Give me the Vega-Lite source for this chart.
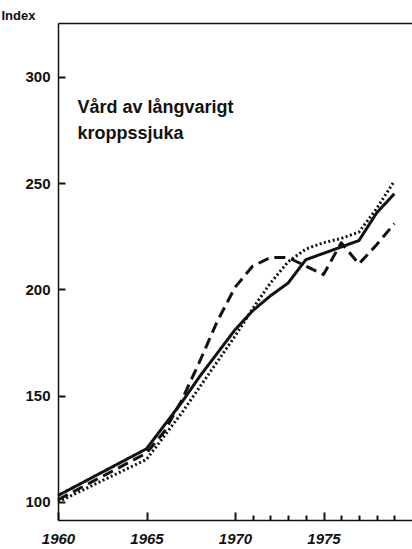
{
  "$schema": "https://vega.github.io/schema/vega-lite/v6.json",
  "width": 354,
  "height": 497,
  "autosize": "none",
  "padding": {"left": 58, "top": 23, "right": 0, "bottom": 29},
  "background": "white",
  "config": {
    "view": {"stroke": null},
    "axis": {"grid": false, "ticks": true, "domainColor": "#111", "tickColor": "#111", "labelColor": "#111", "titleColor": "#111", "labelFont": "Liberation Sans", "titleFont": "Liberation Sans", "domainWidth": 1.5, "tickWidth": 2}
  },
  "datasets": {
    "series": [
      {"year": 1960, "value": 103, "serie": "A"},
      {"year": 1965, "value": 125, "serie": "A"},
      {"year": 1966, "value": 136, "serie": "A"},
      {"year": 1967, "value": 147, "serie": "A"},
      {"year": 1968, "value": 159, "serie": "A"},
      {"year": 1969, "value": 170, "serie": "A"},
      {"year": 1970, "value": 181, "serie": "A"},
      {"year": 1971, "value": 190, "serie": "A"},
      {"year": 1972, "value": 197, "serie": "A"},
      {"year": 1973, "value": 203, "serie": "A"},
      {"year": 1974, "value": 214, "serie": "A"},
      {"year": 1975, "value": 217, "serie": "A"},
      {"year": 1976, "value": 220, "serie": "A"},
      {"year": 1977, "value": 223, "serie": "A"},
      {"year": 1978, "value": 236, "serie": "A"},
      {"year": 1979, "value": 245, "serie": "A"},
      {"year": 1960, "value": 101, "serie": "B"},
      {"year": 1965, "value": 123, "serie": "B"},
      {"year": 1966, "value": 133, "serie": "B"},
      {"year": 1967, "value": 148, "serie": "B"},
      {"year": 1968, "value": 166, "serie": "B"},
      {"year": 1969, "value": 185, "serie": "B"},
      {"year": 1970, "value": 201, "serie": "B"},
      {"year": 1971, "value": 211, "serie": "B"},
      {"year": 1972, "value": 215, "serie": "B"},
      {"year": 1973, "value": 215, "serie": "B"},
      {"year": 1974, "value": 211, "serie": "B"},
      {"year": 1975, "value": 207, "serie": "B"},
      {"year": 1976, "value": 222, "serie": "B"},
      {"year": 1977, "value": 212, "serie": "B"},
      {"year": 1978, "value": 221, "serie": "B"},
      {"year": 1979, "value": 231, "serie": "B"},
      {"year": 1960, "value": 100, "serie": "C"},
      {"year": 1965, "value": 120, "serie": "C"},
      {"year": 1966, "value": 131, "serie": "C"},
      {"year": 1967, "value": 142, "serie": "C"},
      {"year": 1968, "value": 154, "serie": "C"},
      {"year": 1969, "value": 166, "serie": "C"},
      {"year": 1970, "value": 178, "serie": "C"},
      {"year": 1971, "value": 191, "serie": "C"},
      {"year": 1972, "value": 203, "serie": "C"},
      {"year": 1973, "value": 213, "serie": "C"},
      {"year": 1974, "value": 219, "serie": "C"},
      {"year": 1975, "value": 222, "serie": "C"},
      {"year": 1976, "value": 224, "serie": "C"},
      {"year": 1977, "value": 227, "serie": "C"},
      {"year": 1978, "value": 238, "serie": "C"},
      {"year": 1979, "value": 251, "serie": "C"}
    ]
  },
  "resolve": {"axis": {"x": "independent", "y": "independent"}},
  "layer": [
    {
      "data": {"name": "series"},
      "mark": {"type": "line", "color": "#111", "strokeCap": "butt", "strokeJoin": "round"},
      "encoding": {
        "x": {"field": "year", "type": "quantitative", "scale": {"domain": [1960, 1980], "nice": false, "zero": false},
          "axis": {"title": null, "orient": "bottom", "ticks": true, "values": [1960, 1965, 1970, 1975], "format": "d", "tickSize": -8, "labelPadding": 19, "labelFontSize": 15, "labelFontWeight": "bold", "labelFontStyle": "italic", "labelFlush": false}},
        "y": {"field": "value", "type": "quantitative", "scale": {"domain": [91.5, 325.4], "nice": false, "zero": false},
          "axis": {"title": "Index", "orient": "left", "ticks": true, "values": [100, 150, 200, 250, 300], "tickSize": -7, "labelPadding": 15, "labelFontSize": 15, "labelFontWeight": "bold", "titleAngle": 0, "titleX": -57, "titleY": -4, "titleAlign": "left", "titleBaseline": "alphabetic", "titleFontSize": 13, "titleFontWeight": "bold"}},
        "strokeDash": {"field": "serie", "type": "nominal", "legend": null, "scale": {"domain": ["A", "B", "C"], "range": [[1, 0], [11, 6], [2, 2.5]]}},
        "strokeWidth": {"field": "serie", "type": "nominal", "legend": null, "scale": {"domain": ["A", "B", "C"], "range": [3, 3, 2]}}
      }
    },
    {
      "data": {"values": [{"label": "Vård av långvarigt", "year": 1961.1, "value": 283.1}]},
      "mark": {"type": "text", "align": "left", "baseline": "alphabetic", "font": "Liberation Sans", "fontSize": 18, "fontWeight": "bold", "color": "#111"},
      "encoding": {
        "x": {"field": "year", "type": "quantitative", "axis": {"title": null, "orient": "bottom", "ticks": true, "values": [1971, 1972, 1973, 1974, 1976, 1977, 1978, 1979], "tickSize": -5, "labels": false, "domain": false}},
        "y": {"field": "value", "type": "quantitative", "axis": null},
        "text": {"field": "label"}
      }
    },
    {
      "data": {"values": [{"label": "kroppssjuka", "year": 1961.1, "value": 271}]},
      "mark": {"type": "text", "align": "left", "baseline": "alphabetic", "font": "Liberation Sans", "fontSize": 18, "fontWeight": "bold", "color": "#111"},
      "encoding": {
        "x": {"field": "year", "type": "quantitative", "axis": {"title": null, "orient": "top", "ticks": false, "labels": false, "domain": true}},
        "y": {"field": "value", "type": "quantitative", "axis": null},
        "text": {"field": "label"}
      }
    }
  ]
}
